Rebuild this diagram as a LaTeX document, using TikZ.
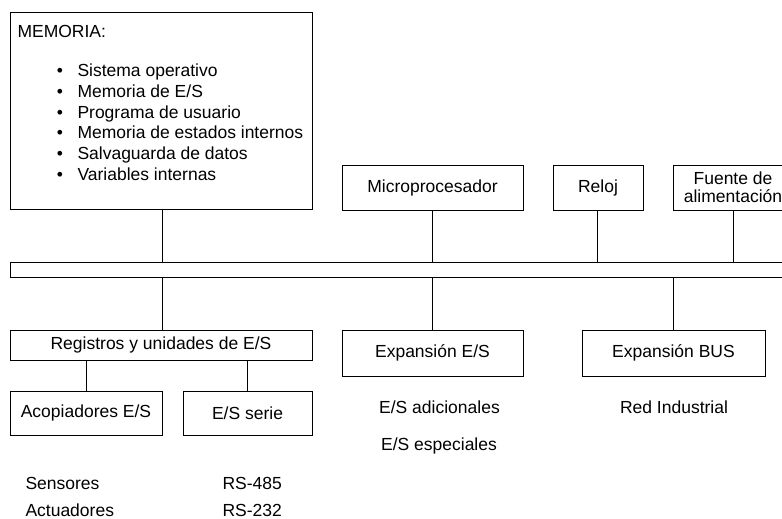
\documentclass[tikz,border=0pt]{standalone}
\usepackage{fontspec}
\setmainfont{Liberation Sans}
\usepackage{tikz}

\tikzset{
  caja/.style={draw, line width=1pt, inner sep=0pt},
  txt/.style={inner sep=0pt, font=\fontsize{17.5}{19}\selectfont},
}

\begin{document}
\begin{tikzpicture}[x=1pt, y=-1pt, line width=1pt]
        \clip (0,0) rectangle (782,519);
        % memoria
        \node[caja, minimum width=302pt, minimum height=196pt] (mem) at (161,111) {};
        \node[txt, anchor=base west] (memt) at (17,38) {MEMORIA:};
        \foreach \y/\t [count=\i] in {77/{Sistema operativo}, 98/{Memoria de E/S}, 118/{Programa de usuario},
                138/{Memoria de estados internos}, 159/{Salvaguarda de datos}, 180/{Variables internas}} {
          \node[txt, anchor=base] (bul\i) at (60,\y) {\textbullet};
          \node[txt, anchor=base west] (item\i) at (77,\y) {\t};
        }
        % bloques superiores
        \node[caja, txt, minimum width=181pt, minimum height=45pt] (micro) at (432.5,187.5) {Microprocesador};
        \node[caja, txt, minimum width=90pt, minimum height=45pt] (reloj) at (598,187.5) {Reloj};
        \node[caja, txt, minimum width=120pt, minimum height=45pt, align=center] (fuente) at (733,187.5)
                {Fuente de\\[-1pt]alimentación};
        % bus
        \node[caja, minimum width=790pt, minimum height=15pt] (bus) at (405,269.5) {};
        % bloques inferiores
        \node[caja, txt, minimum width=302pt, minimum height=30pt] (reg) at (161,345) {Registros y unidades de E/S};
        \node[caja, txt, minimum width=152pt, minimum height=44pt] (acop) at (86,413) {Acopiadores E/S};
        \node[caja, txt, minimum width=129pt, minimum height=44pt] (serie) at (247.5,413) {E/S serie};
        \node[caja, txt, minimum width=181pt, minimum height=46pt] (expes) at (432.5,353) {Expansión E/S};
        \node[caja, txt, minimum width=183pt, minimum height=46pt] (expbus) at (673.5,353) {Expansión BUS};
        % textos sueltos
        \node[txt, anchor=base west] (sens) at (25,489) {Sensores};
        \node[txt, anchor=base west] (actu) at (25,516) {Actuadores};
        \node[txt, anchor=base west] (rs485) at (222,489) {RS-485};
        \node[txt, anchor=base west] (rs232) at (222,516) {RS-232};
        \node[txt, anchor=base] (esad) at (439.5,413) {E/S adicionales};
        \node[txt, anchor=base] (esesp) at (439,450) {E/S especiales};
        \node[txt, anchor=base] (red) at (674,413) {Red Industrial};
        % conexiones
        \draw ([xshift=1pt]mem.south) -- ([xshift=1pt]mem.south |- bus.north);
        \draw (micro.south) -- (micro.south |- bus.north);
        \draw ([xshift=-1pt]reloj.south) -- ([xshift=-1pt]reloj.south |- bus.north);
        \draw (fuente.south) -- (fuente.south |- bus.north);
        \draw ([xshift=1pt]reg.north |- bus.south) -- ([xshift=1pt]reg.north);
        \draw (expes.north |- bus.south) -- (expes.north);
        \draw (expbus.north |- bus.south) -- (expbus.north);
        \draw (acop.north |- reg.south) -- (acop.north);
        \draw (serie.north |- reg.south) -- (serie.north);
\end{tikzpicture}
\end{document}
